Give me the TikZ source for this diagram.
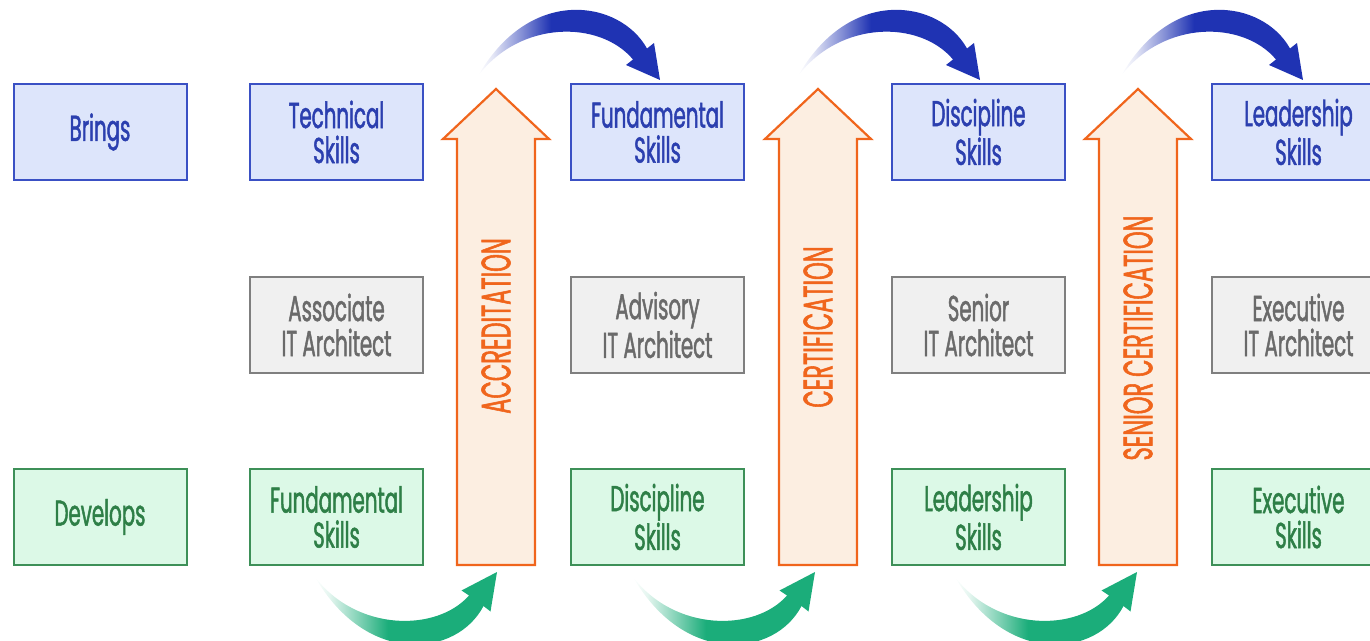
\documentclass[tikz,border=0pt]{standalone}
\usepackage{fontspec}
\newfontfamily\cond[FakeStretch=0.55, FakeBold=1.3]{Poppins}
\definecolor{bfill}{HTML}{DDE5FB}
\definecolor{bdraw}{HTML}{3A50C4}
\definecolor{btext}{HTML}{2B3FAF}
\definecolor{gfill}{HTML}{F0F0F0}
\definecolor{gdraw}{HTML}{7F7F7F}
\definecolor{gtext}{HTML}{6A6A6A}
\definecolor{efill}{HTML}{DCF9E7}
\definecolor{edraw}{HTML}{3D9058}
\definecolor{etext}{HTML}{2E7F47}
\definecolor{ofill}{HTML}{FCEEE1}
\definecolor{odraw}{HTML}{F0651C}
\definecolor{arrB}{HTML}{1F33B3}
\definecolor{arrG}{HTML}{1BAD7A}
\pgfdeclarehorizontalshading{bluefade}{100bp}{color(0bp)=(white); color(25bp)=(white); color(29bp)=(arrB!12); color(37bp)=(arrB!55); color(45bp)=(arrB); color(100bp)=(arrB)}
\pgfdeclarehorizontalshading{greenfade}{100bp}{color(0bp)=(white); color(25bp)=(white); color(29bp)=(arrG!12); color(37bp)=(arrG!55); color(45bp)=(arrG); color(100bp)=(arrG)}
\tikzset{
  box/.style={draw, line width=1pt, minimum width=86.5pt, minimum height=48pt, inner sep=0pt, align=center, font=\cond\fontsize{18}{17.5}\selectfont},
  bluebox/.style={box, fill=bfill, draw=bdraw, text=btext},
  graybox/.style={box, fill=gfill, draw=gdraw, text=gtext},
  greenbox/.style={box, fill=efill, draw=edraw, text=etext},
  uparrow/.style={fill=ofill, draw=odraw, line width=1.1pt, line join=miter},
  uplabel/.style={rotate=90, text=odraw, font=\cond\fontsize{20.5}{20}\selectfont, inner sep=0pt},
}
\newcommand\bigup[1]{%
  \draw[uparrow] (#1-39,565) -- (#1-39,139) -- (#1-53,139) -- (#1,89) -- (#1+53,139) -- (#1+39,139) -- (#1+39,565) -- cycle;}
\newcommand\bluearc[1]{%
  \begin{scope}[shift={#1}]
  \shade[shading=bluefade] (-182,-4) .. controls (-140,-60) and (-60,-60) .. (-27,-20.5) -- (-34,-15) -- (0,0) -- (-6,-37) -- (-13,-31.5) .. controls (-40,-80) and (-130,-95) .. (-182,-4) -- cycle;
  \end{scope}}
\newcommand\greenarc[1]{%
  \begin{scope}[shift={#1}]
  \shade[shading=greenfade] (-182,5) .. controls (-140,60) and (-60,60) .. (-28,23.5) -- (-35.5,18.5) -- (0,0) -- (-6.5,39.5) -- (-13.5,34) .. controls (-40,85) and (-130,95) .. (-182,5) -- cycle;
  \end{scope}}
\begin{document}
\begin{tikzpicture}[x=0.5pt, y=-0.5pt]
\useasboundingbox (0,0) rectangle (1370,641);
\clip (0,0) rectangle (1370,641);
% row labels
\node[bluebox]  (brings)   at (100,132) {Brings};
\node[greenbox] (develops) at (100,517) {Develops};
% column 1
\node[bluebox]  (t1) at (336.5,132) {Technical\\Skills};
\node[graybox]  (m1) at (336.5,325) {Associate\\IT Architect};
\node[greenbox] (b1) at (336.5,517) {Fundamental\\Skills};
% column 2
\node[bluebox]  (t2) at (657.5,132) {Fundamental\\Skills};
\node[graybox]  (m2) at (657.5,325) {Advisory\\IT Architect};
\node[greenbox] (b2) at (657.5,517) {Discipline\\Skills};
% column 3
\node[bluebox]  (t3) at (978.5,132) {Discipline\\Skills};
\node[graybox]  (m3) at (978.5,325) {Senior\\IT Architect};
\node[greenbox] (b3) at (978.5,517) {Leadership\\Skills};
% column 4
\node[bluebox]  (t4) at (1298.5,132) {Leadership\\Skills};
\node[graybox]  (m4) at (1298.5,325) {Executive\\IT Architect};
\node[greenbox] (b4) at (1298.5,517) {Executive\\Skills};
% big up arrows
\bigup{496}
\bigup{818}
\bigup{1138}
\node[uplabel] (acc)  at (496,326) {ACCREDITATION};
\node[uplabel] (cert) at (818,327) {CERTIFICATION};
\node[uplabel] (scert) at (1138,338) {SENIOR CERTIFICATION};
% curved arrows
\bluearc{(660,80)}
\bluearc{(980,80)}
\bluearc{(1303,80)}
\greenarc{(497,572)}
\greenarc{(815,572)}
\greenarc{(1137,572)}
\end{tikzpicture}
\end{document}
